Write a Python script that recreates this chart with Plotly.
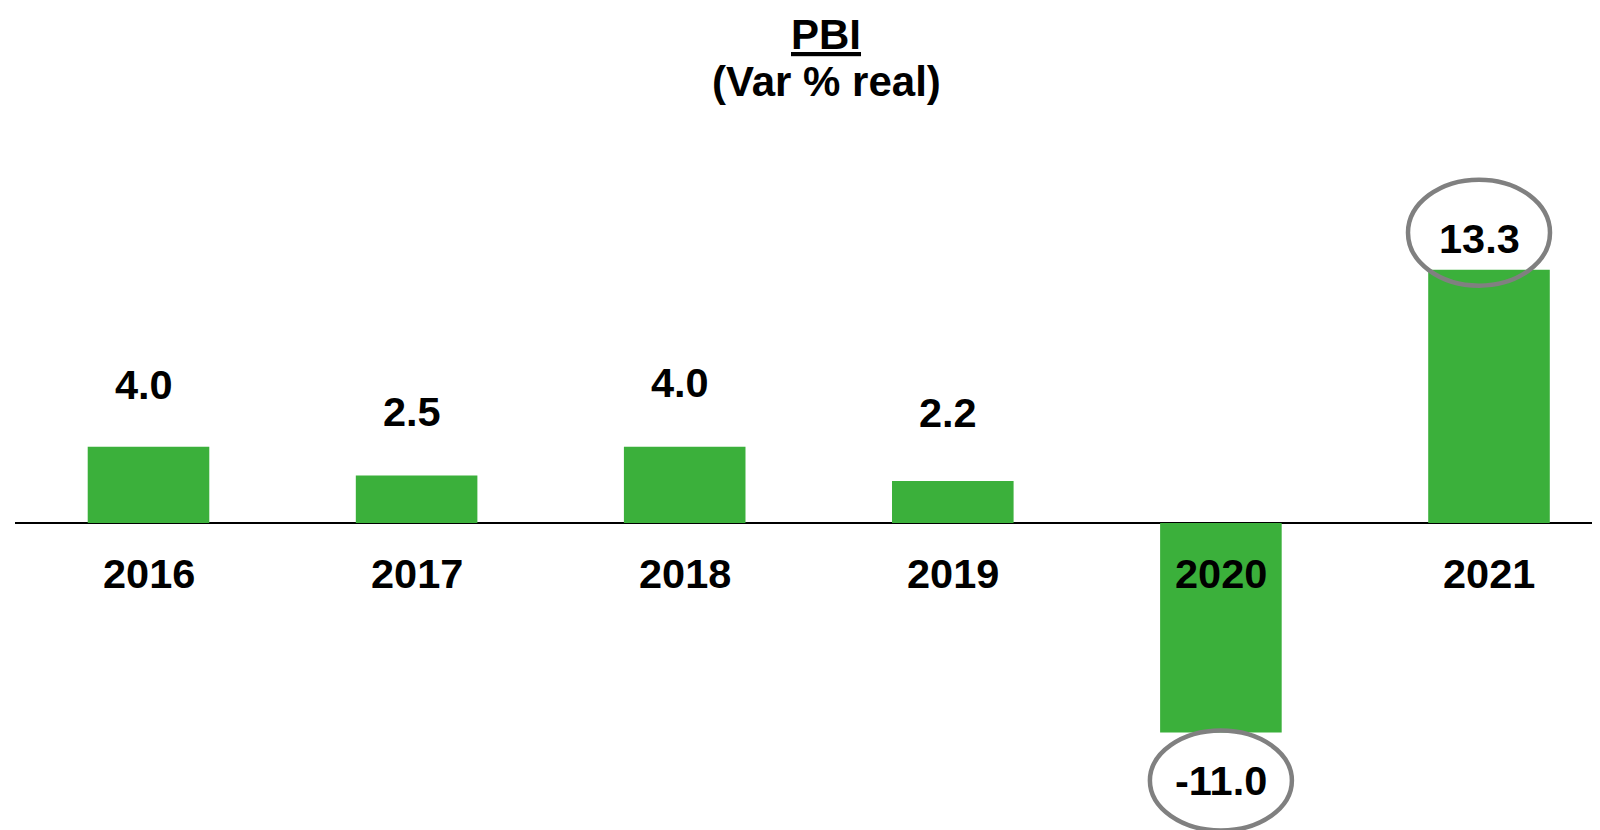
import plotly.graph_objects as go

categories = ["2016", "2017", "2018", "2019", "2020", "2021"]
values = [4.0, 2.5, 4.0, 2.2, -11.0, 13.3]
value_labels = ["4.0", "2.5", "4.0", "2.2", "-11.0", "13.3"]
highlighted = ["2020", "2021"]
title_main = "PBI"
title_sub = "(Var % real)"

GREEN = "#3BB03B"
GRAY = "#808080"
FONT = "Liberation Sans, Arial, sans-serif"
FS = 41.5

# page has an 8px body margin; compensate
OFF = 8
W, H = 1600 - OFF, 830 - OFF
left_margin = 15 - OFF
base_px = 523.0 - OFF
ppu = 19.05
spacing = 268.1
first_center = 148.5 - OFF

# vertical offset (px) of the plain value labels above bar tops
label_lift = {"2016": 62, "2017": 64, "2018": 64, "2019": 69}

xs = list(range(len(categories)))
x_lo = -(first_center - left_margin) / spacing
x_hi = (W - first_center) / spacing
y_hi = base_px / ppu
y_lo = -(H - base_px) / ppu

fig = go.Figure()
fig.add_trace(go.Bar(
    x=xs, y=values, width=0.4535,
    marker=dict(color=GREEN, line=dict(width=0)),
    hoverinfo="skip",
))

annotations = []
shapes = []
for i, (cat, v, lab) in enumerate(zip(categories, values, value_labels)):
    annotations.append(dict(
        x=i, y=0, xref="x", yref="y", text=f"<b>{cat}</b>", showarrow=False,
        yanchor="middle", yshift=-50.5,
        font=dict(family=FONT, size=FS, color="black"),
    ))
    if cat in highlighted:
        if v >= 0:
            dy, cy, ry, dx = 31, 37, 53, -10
        else:
            dy, cy, ry, dx = -48, -48, 50, 0
        annotations.append(dict(
            x=i, y=v, xref="x", yref="y", text=f"<b>{lab}</b>", showarrow=False,
            yanchor="middle", yshift=dy, xshift=dx,
            font=dict(family=FONT, size=FS, color="black"),
        ))
        shapes.append(dict(
            type="circle", xref="x", yref="y",
            xsizemode="pixel", ysizemode="pixel",
            xanchor=i, yanchor=v,
            x0=dx - 71, x1=dx + 71, y0=cy - ry, y1=cy + ry,
            line=dict(color=GRAY, width=4.5), fillcolor="rgba(0,0,0,0)",
        ))
    else:
        annotations.append(dict(
            x=i, y=v, xref="x", yref="y", text=f"<b>{lab}</b>", showarrow=False,
            yanchor="middle", yshift=label_lift.get(cat, 63), xshift=-5,
            font=dict(family=FONT, size=FS, color="black"),
        ))

tx = (826 - OFF - left_margin) / (W - left_margin)
annotations.append(dict(
    x=tx, y=1, xref="paper", yref="paper", yanchor="middle", yshift=-(34 - OFF),
    text=f"<b><u>{title_main}</u></b>", showarrow=False,
    font=dict(family=FONT, size=42, color="black"),
))
annotations.append(dict(
    x=tx, y=1, xref="paper", yref="paper", yanchor="middle", yshift=-(81.5 - OFF),
    text=f"<b>{title_sub}</b>", showarrow=False,
    font=dict(family=FONT, size=42, color="black"),
))

fig.update_layout(
    width=W, height=H,
    margin=dict(l=left_margin, r=0, t=0, b=0),
    paper_bgcolor="white", plot_bgcolor="white",
    showlegend=False,
    xaxis=dict(range=[x_lo, x_hi], visible=False, fixedrange=True),
    yaxis=dict(range=[y_lo, y_hi], showgrid=False, showticklabels=False,
               zeroline=True, zerolinecolor="black", zerolinewidth=1.5,
               showline=False, ticks=""),
    annotations=annotations,
    shapes=shapes,
)

fig.write_html("out.html", config={"displayModeBar": False})
